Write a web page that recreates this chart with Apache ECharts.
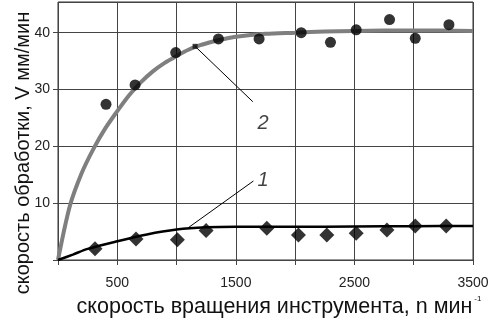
<!DOCTYPE html>
<html><head><meta charset="utf-8">
<script src="https://cdn.jsdelivr.net/npm/echarts@6/dist/echarts.min.js"></script>
<style>html,body{margin:0;padding:0;background:#fff}#c{width:500px;height:325px}</style>
</head><body><div id="c"></div>
<script>
// Data
const pts2N = [405, 650, 993, 1353, 1696, 2051, 2298, 2515, 2796, 3013, 3297];
const pts2V = [27.4, 30.8, 36.5, 38.9, 38.9, 40.0, 38.3, 40.5, 42.3, 39.0, 41.4];
const pts1N = [312, 658, 1007, 1249, 1761, 2028, 2267, 2515, 2774, 3013, 3274];
const pts1V = [2.0, 3.7, 3.55, 5.2, 5.6, 4.4, 4.4, 4.7, 5.3, 6.0, 6.0];
const curve2N = [0, 100, 200, 300, 400, 500, 600, 700, 800, 900, 1000, 1100, 1200, 1300, 1400, 1500, 1750, 2000, 2250, 2500, 3000, 3500];
const curve2V = [0, 9.5, 15.3, 19.6, 23.2, 26.2, 29.0, 31.3, 33.2, 34.7, 35.9, 37.0, 37.8, 38.4, 38.9, 39.3, 39.8, 40.0, 40.2, 40.3, 40.4, 40.3];
const curve1N = [0, 125, 250, 500, 750, 1000, 1250, 1500, 2000, 2500, 3000, 3500];
const curve1V = [0, 0.95, 1.95, 3.3, 4.5, 5.35, 5.75, 5.85, 5.85, 5.9, 5.95, 6.0];
const lead2N = [1156, 1643];
const lead2V = [37.6, 27.85];
const lead1N = [1100, 1648];
const lead1V = [5.7, 13.9];
const labelNames = ['1', '2'];
const labelN = [1730, 1730];
const labelV = [14.0, 24.1];
const xTicks = [500, 1500, 2500, 3500];
const yTicks = [10, 20, 30, 40];
const xTitle = 'скорость вращения инструмента, n мин';
const xTitleSup = '-1';
const yTitle = 'скорость обработки, V мм/мин';

const zip = (a, b) => a.map((v, i) => [v, b[i]]);
const FONT = '"Liberation Sans", Arial, sans-serif';
const chart = echarts.init(document.getElementById('c'), null, {renderer: 'canvas'});
chart.setOption({
  animation: false,
  backgroundColor: '#fff',
  grid: {left: 58, right: 27, top: 2, bottom: 65, show: true, borderColor: '#333', borderWidth: 1, backgroundColor: 'transparent'},
  xAxis: {
    type: 'value', min: 0, max: 3500, interval: 500,
    axisLine: {show: false},
    axisTick: {show: true, length: 5, lineStyle: {color: '#444'}},
    splitLine: {show: true, lineStyle: {color: '#444', width: 1}},
    axisLabel: {color: '#222', fontSize: 14, fontFamily: FONT, margin: 16,
      formatter: v => xTicks.includes(v) ? String(v) : ''}
  },
  yAxis: {
    type: 'value', min: 0, max: 45.4, interval: 10,
    axisLine: {show: false},
    axisTick: {show: true, length: 5, lineStyle: {color: '#444'}},
    splitLine: {show: true, lineStyle: {color: '#444', width: 1}},
    axisLabel: {color: '#222', fontSize: 14, fontFamily: FONT, margin: 8,
      formatter: v => yTicks.includes(v) ? String(v) : '', showMaxLabel: false}
  },
  graphic: [
    {type: 'text', x: 23, y: 153, rotation: Math.PI / 2,
      style: {text: yTitle, font: '20px ' + FONT, fill: '#111', align: 'center', verticalAlign: 'middle'}},
    {type: 'text', x: 279, y: 307,
      style: {text: '{a|' + xTitle + '}{b|' + xTitleSup + '}', align: 'center', verticalAlign: 'middle',
        rich: {a: {font: '21.5px ' + FONT, fill: '#111'}, b: {font: '8px ' + FONT, fill: '#111', padding: [0, 0, 16, 2]}}}}
  ],
  series: [
    {type: 'line', data: zip(curve2N, curve2V), smooth: 0.3, symbol: 'none',
      lineStyle: {color: '#7f7f7f', width: 4}, z: 3},
    {type: 'line', data: zip(curve1N, curve1V), smooth: 0.3, symbol: 'none',
      lineStyle: {color: '#000', width: 2.5}, z: 3},
    {type: 'line', data: zip(lead2N, lead2V), symbol: 'none', lineStyle: {color: '#000', width: 1}, z: 4},
    {type: 'line', data: zip(lead1N, lead1V), symbol: 'none', lineStyle: {color: '#000', width: 1}, z: 4},
    {type: 'scatter', data: [[lead2N[0], lead2V[0]]], symbol: 'rect', symbolSize: 5,
      itemStyle: {color: '#111'}, z: 5},
    {type: 'scatter', data: zip(pts2N, pts2V), symbol: 'circle', symbolSize: 11,
      itemStyle: {color: '#000'}, z: 5},
    {type: 'scatter', data: zip(pts1N, pts1V), symbol: 'diamond', symbolSize: [15, 15],
      itemStyle: {color: '#000'}, z: 5},
    {type: 'scatter', data: labelNames.map((n, i) => ({name: n, value: [labelN[i], labelV[i]]})),
      symbolSize: 0, z: 6,
      label: {show: true, position: 'inside', formatter: p => p.name, fontSize: 20, fontStyle: 'italic',
        fontFamily: FONT, color: '#111'}}
  ]
});
</script></body></html>
